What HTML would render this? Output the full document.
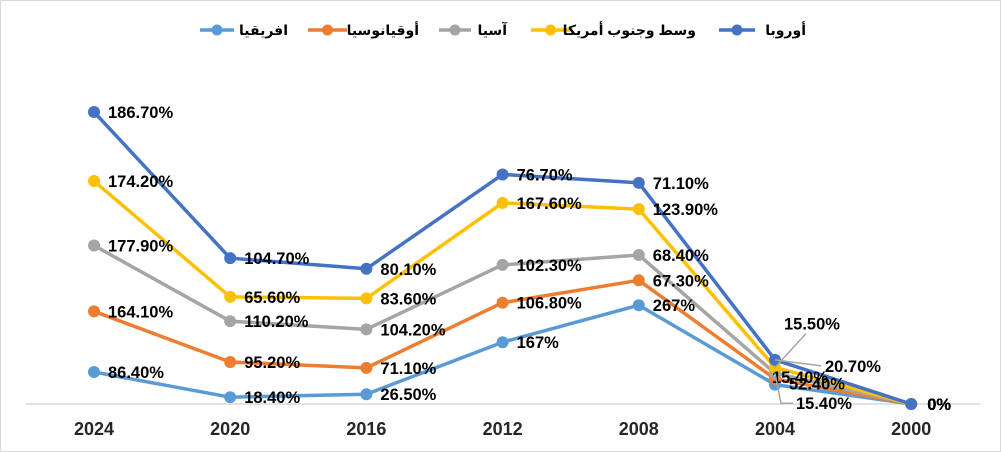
<!DOCTYPE html>
<html><head><meta charset="utf-8"><style>
html,body{margin:0;padding:0;background:#fff}
svg{display:block}
text{font-family:"Liberation Sans","DejaVu Sans",sans-serif;font-weight:bold}
</style></head><body>
<svg id="chart" width="1001" height="452">
<rect x="0.5" y="0.5" width="1000" height="451" fill="#fff" stroke="#d9d9d9"/>
<line x1="26" y1="404" x2="980" y2="404" stroke="#d9d9d9" stroke-width="1.5"/>
<g id="legend"></g>
<g id="plot"></g>
</svg>
<script>
const categories = ["2024","2020","2016","2012","2008","2004","2000"];
const seriesNames = ["افريقيا","أوقيانوسيا","آسيا","وسط وجنوب أمريكا","أوروبا"];
const africa   = [86.4, 18.4, 26.5, 167, 267, 52.4, 0];
const oceania  = [164.1, 95.2, 71.1, 106.8, 67.3, 15.4, 0];
const asia     = [177.9, 110.2, 104.2, 102.3, 68.4, 15.4, 0];
const americas = [174.2, 65.6, 83.6, 167.6, 123.9, 15.5, 0];
const europe   = [186.7, 104.7, 80.1, 76.7, 71.1, 20.7, 0];
const labelsAfrica   = ["86.40%","18.40%","26.50%","167%","267%","52.40%","0%"];
const labelsOceania  = ["164.10%","95.20%","71.10%","106.80%","67.30%","15.40%","0%"];
const labelsAsia     = ["177.90%","110.20%","104.20%","102.30%","68.40%","15.40%","0%"];
const labelsAmericas = ["174.20%","65.60%","83.60%","167.60%","123.90%","15.50%","0%"];
const labelsEurope   = ["186.70%","104.70%","80.10%","76.70%","71.10%","20.70%","0%"];

const series = [africa, oceania, asia, americas, europe];
const labels = [labelsAfrica, labelsOceania, labelsAsia, labelsAmericas, labelsEurope];
const colors = ["#5B9BD5","#ED7D31","#A5A5A5","#FFC000","#4472C4"];
const NS = "http://www.w3.org/2000/svg";
const xPos = i => 94 + i * 136.2;
const yPos = v => 404 - v * 0.37;
function mk(tag, attrs, parent){const e=document.createElementNS(NS,tag);for(const k in attrs)e.setAttribute(k,attrs[k]);parent.appendChild(e);return e;}
const plot = document.getElementById('plot');
const svg = document.getElementById('chart');

categories.forEach((c,i)=>{
  const t = mk('text',{x:xPos(i),y:435,'text-anchor':'middle','font-size':18,fill:'#262626'},svg);
  t.textContent = c;
  
  
});

const cum = series.map(()=>[]);
categories.forEach((c,i)=>{let s=0;series.forEach((arr,k)=>{s+=arr[i];cum[k][i]=s;});});

// label offsets for crowded 2004 column (style only)
const off2004 = [[14,-1],[-3,-2],[21,30],[9,-44],[50,6]];

for(let k=0;k<series.length;k++){
  const pts = cum[k].map((v,i)=>xPos(i)+','+yPos(v)).join(' ');
  const pl = mk('polyline',{points:pts,fill:'none',stroke:colors[k],'stroke-width':3.5,'stroke-linejoin':'round'},plot);
  
  
}
for(let k=0;k<series.length;k++){
  cum[k].forEach((v,i)=>{
    const m = mk('circle',{cx:xPos(i),cy:yPos(v),r:6,fill:colors[k]},plot);
    
    
  });
}
for(let k=0;k<series.length;k++){
  cum[k].forEach((v,i)=>{
    const cx=xPos(i), cy=yPos(v);
    let lx=cx+14, ly=cy;
    if(i===5){lx=cx+off2004[k][0]; ly=cy+off2004[k][1];
      if(k===3){const ln=mk('line',{x1:cx,y1:cy,x2:lx+22,y2:ly+10,stroke:'#a5a5a5','stroke-width':1.5},plot);
        
        }
      if(k===4){const ln=mk('line',{x1:cx,y1:cy,x2:lx-4,y2:ly,stroke:'#a5a5a5','stroke-width':1.5},plot);
        
        }
      if(k===2){const ln=mk('polyline',{points:cx+','+cy+' '+(cx+6)+','+ly+' '+(lx-3)+','+ly,fill:'none',stroke:'#a5a5a5','stroke-width':1.5},plot);
        
        }
    }
    if(i===6){lx=cx+16;}
    const t = mk('text',{x:lx,y:ly+6,'font-size':16.5,fill:'#000'},plot);
    t.textContent = labels[k][i];
    
    
  });
}

const legend = document.getElementById('legend');
const legLine = [[200,234],[308,347],[439,471],[531,570],[719,755]];
const legText = [288,419,507,696,806];
seriesNames.forEach((n,k)=>{
  const g = mk('g',{},legend);
  
  
  mk('line',{x1:legLine[k][0],y1:30,x2:legLine[k][1],y2:30,stroke:colors[k],'stroke-width':3.5},g);
  mk('circle',{cx:(legLine[k][0]+legLine[k][1])/2,cy:30,r:5.5,fill:colors[k]},g);
  const t = mk('text',{x:legText[k],y:35,'text-anchor':'end','font-size':14,fill:'#000'},g);
  t.textContent = n;
});
</script>
</body></html>
